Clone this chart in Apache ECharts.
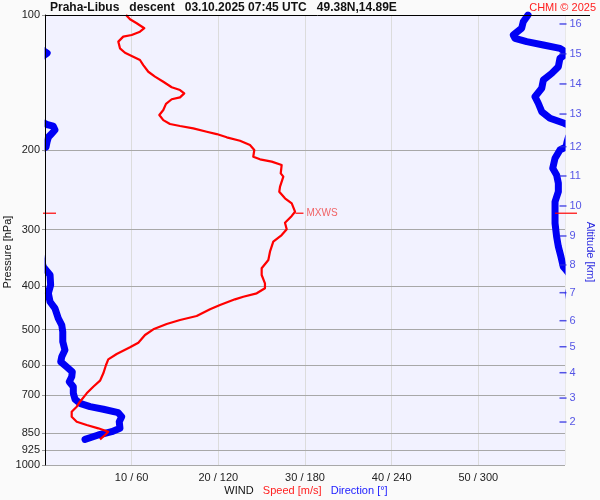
<!DOCTYPE html>
<html><head><meta charset="utf-8">
<script src="https://cdn.jsdelivr.net/npm/echarts@6/dist/echarts.min.js"></script>
<style>html,body{margin:0;padding:0;background:#fafafa}#c{width:600px;height:500px}</style>
</head><body><div id="c"></div>
<script>
// ---- data ----
const pressureTicks = [100,200,300,400,500,600,700,850,925,1000];
const gridPressures = [200,300,400,500,600,700,850,925,1000];
const speedTicks = [10,20,30,40,50];
const directionTicks = [60,120,180,240,300];
const altitudeKm = [16,15,14,13,12,11,10,9,8,7,6,5,4,3,2];
const altitudeP  = [104.7,122.0,142.3,166.0,196.2,227.9,265.7,309.8,359.3,414.1,477.9,546.0,623.6,710,802.6];

const speedP = [100,102.2,104.3,107.0,108.9,110.8,111.7,114.6,118.6,121.3,123.3,125.9,129.2,133.7,137.1,140.7,144.7,146.8,149.3,152.4,153.9,157.6,162.6,166.8,171.2,174.7,176.5,178.6,181.7,183.9,187.0,190.3,194.5,199.5,206.5,209.3,211.8,215.4,224.8,228.7,240.7,247.0,255.5,262.1,273.6,275.8,279.6,289.4,299.4,308.3,319.0,335.7,350.3,365.5,378.3,394.7,404.9,415.4,422.7,428.4,441.1,450.8,466.6,476.2,486.1,499.4,514.2,534.9,547.6,566.7,582.3,599.5,625.5,649.6,669.9,693,723.4,741.9,761.2,781.0,801.3,815.0,828.9,843.3,857.7,876.9];
const speedV = [9.35,9.81,10.58,11.46,10.96,10.0,9.03,8.46,8.65,9.23,10.0,10.96,11.34,11.92,12.69,13.65,14.62,15.58,16.07,15.58,14.62,13.96,13.65,13.19,13.65,14.42,15.58,17.11,18.66,19.81,20.97,22.5,23.65,24.15,24.03,24.81,26.16,27.31,27.2,27.5,27.12,27.03,27.69,28.47,28.85,28.93,28.47,27.69,27.89,27.31,26.34,25.96,25.77,25.0,25.0,25.38,25.38,24.43,22.88,21.92,20.19,19.04,17.5,15.58,14.04,12.5,11.54,10.77,9.81,8.27,7.3,7.04,6.73,6.35,5.57,4.81,4.04,3.66,3.08,3.08,3.66,4.81,6.15,7.3,6.92,6.35];

const dirP = [100,103.5,107.0,110.8,112.7,114.6,116.6,118.6,121.5,124.8,130.3,134.8,139.5,145.5,151.9,157.1,164.0,169.6,174.0,175.1,176.5,180.1,183.2,186.7,191.5,196.5,199.5,208.2,219.1,226.7,236.6,247.0,260.0,275.8,290.3,310.9,327.3,344.5,362.5,368,378.3,398.1,415.4,433.7,448.5,472.1,488.6,505.7,532.1,555.3,574.6,589.5,605.0,620.6,636.8,653.3,669.9,693.0,714.5,729.4,741.9,751.9,765.1,781.0,801.3,828.9,843.3,857.7,876.9];
const dirV = [334.4,331.1,330.0,324.2,325.4,333.5,345.0,356.5,1.5,356.5,355.4,350.8,345.0,343.9,339.2,341.5,343.9,349.6,359.5,1.2,5.7,6.9,4.8,2.4,1.4,0.7,356.5,353.1,351.5,354.2,355.4,355.4,353.1,353.1,353.1,354.2,355.4,357.2,358.8,0.5,3.5,3.9,2.3,3.5,6.9,9.2,11.6,12.3,12.3,13.8,11.6,10.9,15.0,18.9,18.5,16.8,19.6,19.6,20.8,24.2,31.2,40.4,50.7,53.1,51.4,51.9,46.2,36.9,27.7];

const mxwsSpeed = 28.9, mxwsP = 275.8;

// ---- build ----
const FONT = 'Liberation Sans, Arial, sans-serif';
const BLUE = '#0000f5', RED = '#ff0000', BG = '#fafafa';
const speedData = speedV.map((v,i)=>[v, speedP[i]]);
// unwrap direction across 0/360 so the line wraps at plot edges
const unwrapped = [];
dirV.forEach((d,i)=>{
  let v = d;
  if (i>0){ const prev = unwrapped[i-1]; while (v - prev > 180) v -= 360; while (prev - v > 180) v += 360; }
  unwrapped.push(v);
});
const dirA = unwrapped.map((v,i)=>[v, dirP[i]]);
const dirB = unwrapped.map((v,i)=>[v-360, dirP[i]]);
const altData = altitudeKm.map((k,i)=>[60, altitudeP[i], k]);

const chart = echarts.init(document.getElementById('c'), null, {renderer:'canvas'});
chart.setOption({
  backgroundColor:BG,
  animation:false,
  textStyle:{fontFamily:FONT},
  grid:{left:45,right:35,top:15,bottom:35,show:true,backgroundColor:'#f2f2ff',borderWidth:0},
  xAxis:[{
    type:'value',min:0,max:60,interval:10,position:'bottom',
    axisLine:{show:false},axisTick:{show:false},
    splitLine:{show:true,lineStyle:{color:'#dcdcdc',width:1}},
    axisLabel:{customValues:speedTicks,margin:7,color:'#222',fontSize:11,fontFamily:FONT,
      formatter:(v)=>{const i=speedTicks.indexOf(v);return i<0?'':v+' / '+directionTicks[i];}}
  },{
    type:'value',min:0,max:360,position:'top',show:true,
    axisLine:{show:false},axisTick:{show:false},axisLabel:{show:false},splitLine:{show:false}
  }],
  yAxis:[{
    type:'log',logBase:10,min:100,max:1000,inverse:true,z:10,
    axisLine:{show:true,lineStyle:{color:'#000',width:1}},
    axisTick:{show:true,customValues:pressureTicks,length:3,lineStyle:{color:'#999'}},
    axisLabel:{customValues:pressureTicks,margin:5,color:'#222',fontSize:11,fontFamily:FONT,formatter:(v)=>String(Math.round(v))},
    splitLine:{show:false}
  }],
  graphic:[
    // masks hiding the thick direction line where it spills past the plot edges
    {type:'rect',z:3.5,silent:true,shape:{x:36,y:10,width:8.6,height:460},style:{fill:BG}},
    {type:'rect',z:3.5,silent:true,shape:{x:565.6,y:10,width:5,height:460},style:{fill:BG}},
    {type:'line',z:100,shape:{x1:45,y1:15.5,x2:590,y2:15.5},style:{stroke:'#000',lineWidth:1}},
    {type:'text',style:{text:'Praha-Libus   descent   03.10.2025 07:45 UTC   49.38N,14.89E',x:50,y:8,verticalAlign:'middle',textVerticalAlign:'middle',font:'bold 12px '+FONT,fill:'#111'}},
    {type:'text',style:{text:'CHMI © 2025',x:596,y:8,align:'right',textAlign:'right',verticalAlign:'middle',textVerticalAlign:'middle',font:'11px '+FONT,fill:'#ff2020'}},
    {type:'text',x:8,y:252,rotation:Math.PI/2,style:{text:'Pressure [hPa]',align:'center',textAlign:'center',verticalAlign:'middle',textVerticalAlign:'middle',font:'11px '+FONT,fill:'#111'}},
    {type:'text',x:590,y:252,rotation:-Math.PI/2,style:{text:'Altitude [km]',align:'center',textAlign:'center',verticalAlign:'middle',textVerticalAlign:'middle',font:'11px '+FONT,fill:'#2a2ae0'}},
    {type:'text',style:{text:'{a|WIND}   {b|Speed [m/s]}   {c|Direction [°]}',x:306,y:491,align:'center',textAlign:'center',verticalAlign:'middle',textVerticalAlign:'middle',font:'11px '+FONT,
      rich:{a:{fill:'#111',color:'#111',fontSize:11,fontFamily:FONT},b:{fill:'#ff2020',color:'#ff2020',fontSize:11,fontFamily:FONT},c:{fill:'#2020ff',color:'#2020ff',fontSize:11,fontFamily:FONT}}}}
  ],
  series:[
    {type:'line',name:'grid',data:[],z:1,silent:true,
      markLine:{silent:true,symbol:['none','none'],z:1,label:{show:false},animation:false,
        lineStyle:{color:'#a8a8a8',width:1,type:'solid'},
        data:gridPressures.map(p=>({yAxis:p}))}},
    {type:'line',name:'dirA',xAxisIndex:1,data:dirA,showSymbol:false,symbol:'none',z:3,
      lineStyle:{color:BLUE,width:7,cap:'round',join:'round'}},
    {type:'line',name:'dirB',xAxisIndex:1,data:dirB,showSymbol:false,symbol:'none',z:3,
      lineStyle:{color:BLUE,width:7,cap:'round',join:'round'}},
    {type:'line',name:'speed',data:speedData,showSymbol:false,symbol:'none',z:4,
      lineStyle:{color:RED,width:2.2,join:'round'}},
    {type:'scatter',name:'alt',data:altData,symbol:'rect',symbolSize:[7,1.5],symbolOffset:[-2,0],clip:false,z:5,silent:true,
      itemStyle:{color:'#2a2ae0'},
      label:{show:true,position:'right',distance:3,color:'#2a2ae0',fontSize:11,fontFamily:FONT,formatter:(p)=>String(p.value[2])}},
    {type:'scatter',name:'mxws',data:[[mxwsSpeed,mxwsP]],symbol:'rect',symbolSize:[8,1.5],symbolOffset:[4,0],clip:false,z:6,silent:true,
      itemStyle:{color:RED},
      label:{show:true,position:'right',distance:3,color:'#f04040',fontSize:10,fontFamily:FONT,formatter:'MXWS'}},
    {type:'scatter',name:'mxwsTicks',clip:false,z:6,silent:true,symbol:'rect',itemStyle:{color:RED},
      data:[{value:[0,mxwsP],symbolSize:[13,1.5],symbolOffset:[4.5,0]},{value:[60,mxwsP],symbolSize:[22,1.5],symbolOffset:[1,0]}]}
  ]
});
</script></body></html>
